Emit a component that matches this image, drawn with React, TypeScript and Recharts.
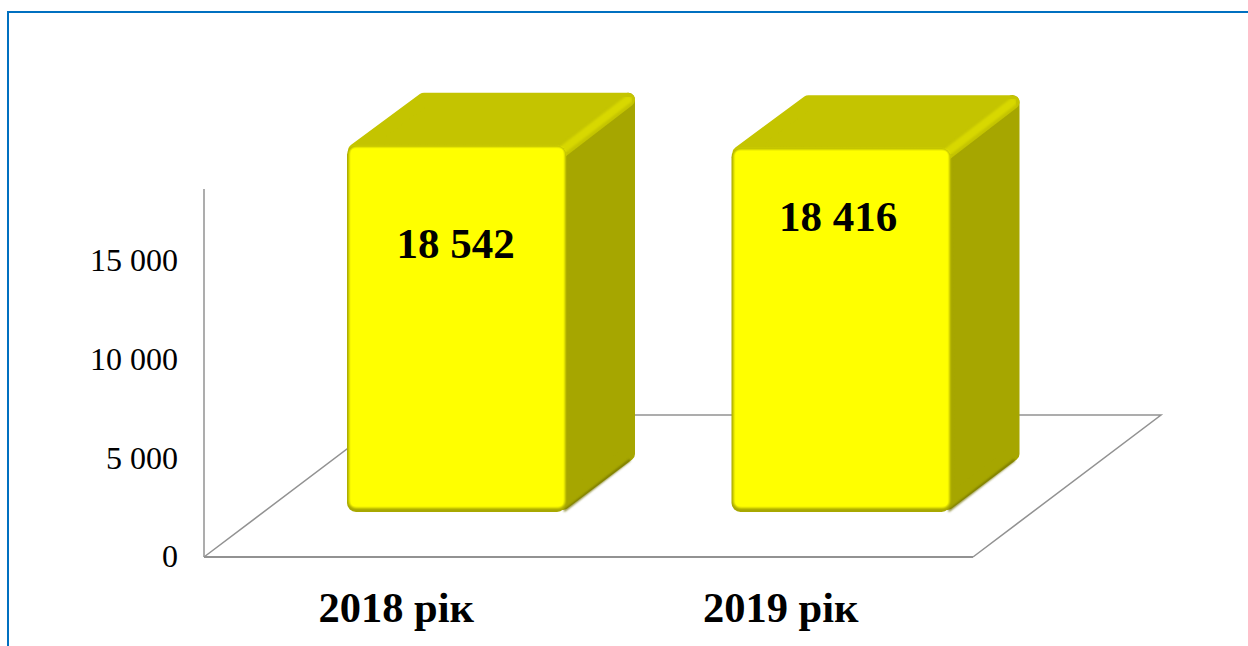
import React from 'react';
import { BarChart, Bar, XAxis, YAxis, LabelList, ReferenceArea } from 'recharts';

const years = ['2018 рік', '2019 рік'];
const totals = [18542, 18416];
const valueTicks = [0, 5000, 10000, 15000];
const axisMax = 18625;

const chartData = years.map((year, i) => ({ year, total: totals[i] }));

const FONT = '"Liberation Serif", "Times New Roman", serif';
const AXIS_GREY = '#929292';

// fake 3D: how far the front face sits from the axis floor, and how deep the box is
const FRONT_DX = 60;
const FRONT_DY = 45;
const DEPTH_DX = 69;
const DEPTH_DY = 53;

// floor of the 3D plot, the back edge is partly behind the boxes
const FloorShape = ({ x, y, width, height }: any) => {
  const bottom = y + height;
  const d = `M${x},${bottom} L${x + 188},${bottom - 142} L${x + width + 188},${bottom - 142} L${x + width},${bottom}`;
  return <path d={d} fill="none" stroke={AXIS_GREY} strokeWidth={1.5} />;
};

const Box3D = ({ x, y, width, height, index }: any) => {
  const left = x + FRONT_DX;
  const top = y - FRONT_DY;
  const right = left + width;
  const bottom = top + height;
  const blurId = `box-blur-${index}`;
  const r = 7;

  // faces are inset by r and stroked 2r wide, which rounds their outer corners
  const topFace = `${left + 8},${top + 5} ${right - r},${top + 7} ${right + DEPTH_DX - r},${top - DEPTH_DY + r} ${left + DEPTH_DX + 8},${top - DEPTH_DY + r}`;
  const sideFace = `${right - 4},${top + 7} ${right + DEPTH_DX - r},${top - DEPTH_DY + r} ${right + DEPTH_DX - r},${bottom - 58} ${right - 3},${bottom - 9}`;

  return (
    <g>
      <defs>
        <filter id={blurId} x="-5%" y="-5%" width="110%" height="110%">
          <feGaussianBlur stdDeviation="1.3" />
        </filter>
      </defs>
      <polygon points={sideFace} fill="#a6a600" stroke="#a6a600" strokeWidth={r * 2} strokeLinejoin="round" />
      {/* shaded lower edge of the side */}
      <line
        x1={right - 2}
        y1={bottom - 1}
        x2={right + DEPTH_DX - 5}
        y2={bottom - 52}
        stroke="#6e6e00"
        strokeWidth={2}
        filter={`url(#${blurId})`}
      />
      <polygon points={topFace} fill="#c4c400" stroke="#c4c400" strokeWidth={r * 2} strokeLinejoin="round" />
      {/* bevel along the upper right edge */}
      <line
        x1={right - 2}
        y1={top + 3}
        x2={right + DEPTH_DX - 7}
        y2={top - DEPTH_DY + 7}
        stroke="#d8d800"
        strokeWidth={8}
        strokeLinecap="round"
        filter={`url(#${blurId})`}
      />
      <rect x={left} y={top} width={width} height={height} rx={r + 2} fill="#a8a800" />
      <rect
        x={left + 2}
        y={top + 1}
        width={width - 3}
        height={height - 5}
        rx={r}
        fill="#ffff00"
        filter={`url(#${blurId})`}
      />
      <rect x={left + 4} y={top + 3} width={width - 7} height={height - 9} rx={4} fill="#ffff00" />
    </g>
  );
};

const BoxLabel = ({ x, y, width, value, index }: any) => {
  const drop = index === 0 ? 98 : 68;
  const nudge = index === 0 ? -1 : -3;
  return (
    <text
      x={x + FRONT_DX + width / 2 + nudge}
      y={y - FRONT_DY + drop}
      textAnchor="middle"
      dominantBaseline="central"
      fontFamily={FONT}
      fontSize={43}
      fontWeight="bold"
      fill="#000"
    >
      {formatThousands(value)}
    </text>
  );
};

const formatThousands = (v: number) => String(v).replace(/\B(?=(\d{3})+$)/g, ' ');

export default function App() {
  return (
    <div style={{ position: 'absolute', left: 0, top: 0, width: 1248, height: 646, overflow: 'hidden', background: '#fff' }}>
      <div
        style={{
          position: 'absolute',
          left: 7,
          top: 11,
          right: 0,
          bottom: 0,
          borderLeft: '2px solid #0070c0',
          borderTop: '2px solid #0070c0',
        }}
      />
      <BarChart
        width={1248}
        height={646}
        data={chartData}
        margin={{ top: 189, right: 275, bottom: 0, left: 84 }}
        barSize={219}
        style={{ position: 'absolute', left: 0, top: 0 }}
      >
        <ReferenceArea y1={0} y2={axisMax} shape={FloorShape} ifOverflow="visible" />
        <XAxis
          dataKey="year"
          height={89}
          tickLine={false}
          tickSize={0}
          tickMargin={35}
          axisLine={{ stroke: AXIS_GREY, strokeWidth: 2 }}
          tick={{ fontFamily: FONT, fontSize: 42.5, fontWeight: 'bold', fill: '#000' }}
        />
        <YAxis
          width={120}
          domain={[0, axisMax]}
          ticks={valueTicks}
          tickFormatter={formatThousands}
          tickLine={false}
          tickSize={0}
          tickMargin={26}
          axisLine={{ stroke: AXIS_GREY, strokeWidth: 1.5 }}
          tick={{ fontFamily: FONT, fontSize: 32, fill: '#000', dy: -1 }}
        />
        <Bar dataKey="total" shape={Box3D} isAnimationActive={false}>
          <LabelList dataKey="total" content={BoxLabel} />
        </Bar>
      </BarChart>
    </div>
  );
}
